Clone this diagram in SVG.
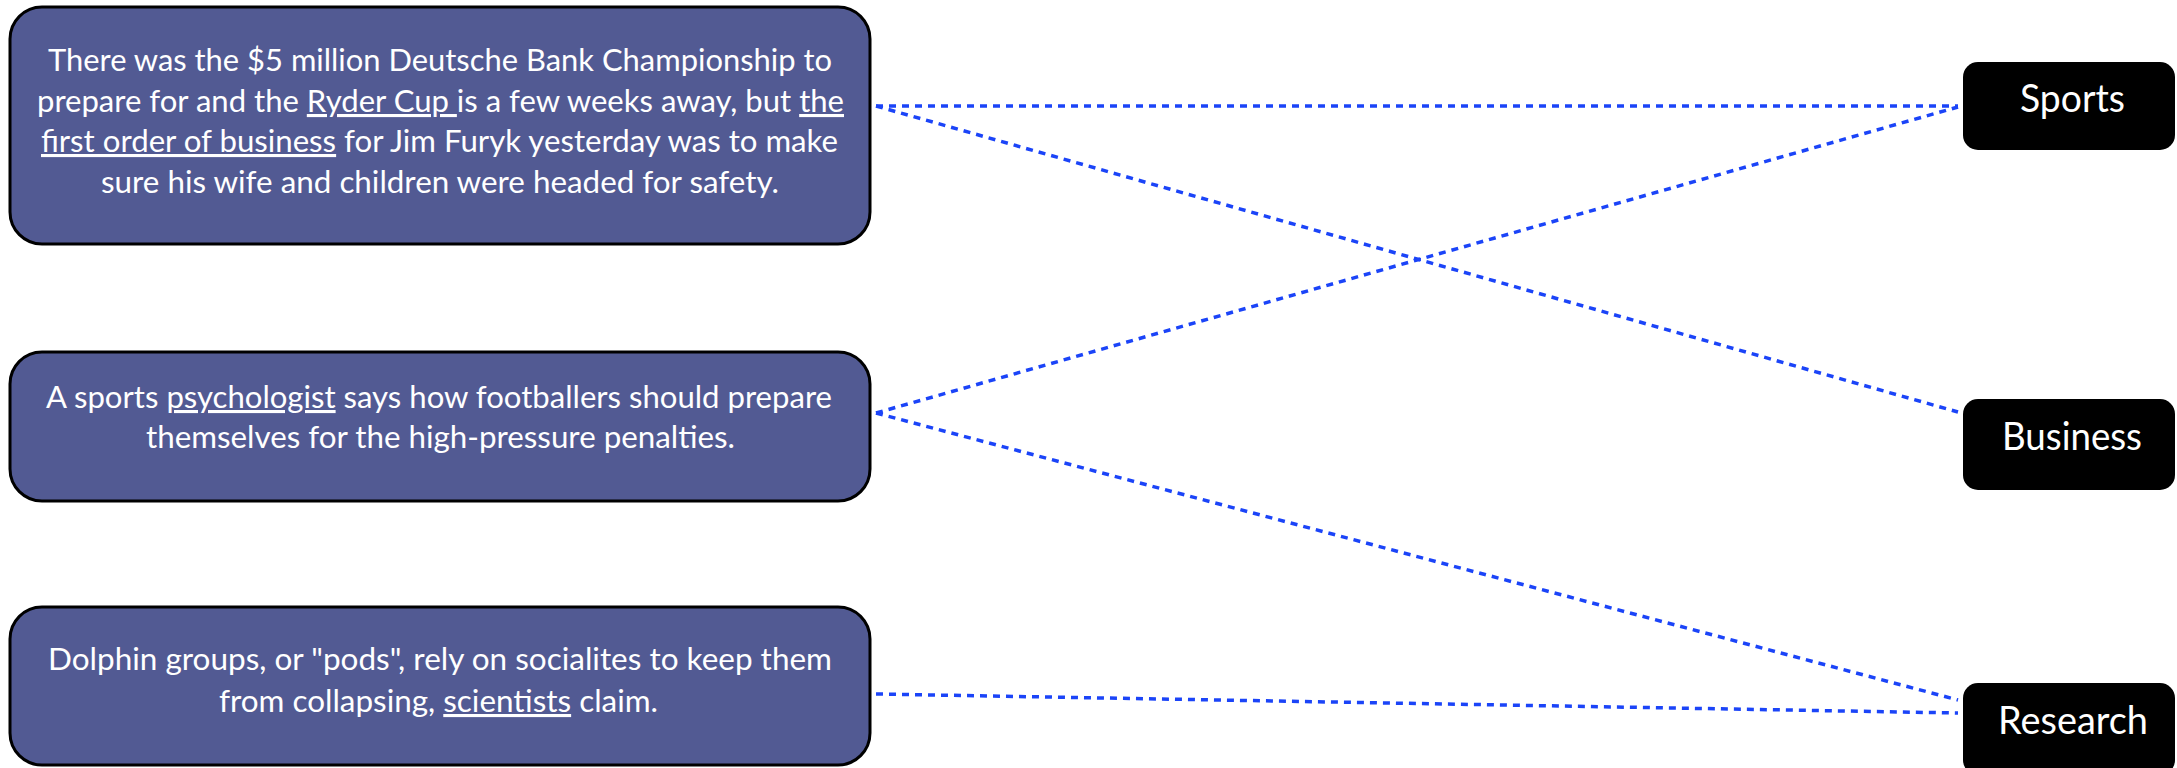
<svg xmlns="http://www.w3.org/2000/svg" width="2177" height="768" viewBox="0 0 2177 768">
  <style>
    .card { fill: #525a93; stroke: #000; stroke-width: 3; }
    .tag { fill: #000; }
    .body { font-family: Lato, "Liberation Sans", sans-serif; font-size: 31px; fill: #fff; }
    .label { font-family: Lato, "Liberation Sans", sans-serif; font-size: 38px; fill: #fff; }
    .u { text-decoration: underline; }
    .link { stroke: #1b44f8; stroke-width: 3.5; stroke-dasharray: 7 6; fill: none; }
  </style>
  <rect width="2177" height="768" fill="#fff"/>

  <!-- dotted connectors between headlines and topics -->
  <g id="connectors">
    <line class="link" x1="876" y1="106" x2="1958" y2="106"/>
    <line class="link" x1="876" y1="106" x2="1958" y2="412"/>
    <line class="link" x1="876" y1="413" x2="1958" y2="107"/>
    <line class="link" x1="876" y1="413" x2="1958" y2="700"/>
    <line class="link" x1="876" y1="694" x2="1958" y2="713"/>
  </g>

  <g id="headline-furyk">
    <rect class="card" x="10" y="7" width="860" height="237" rx="32"/>
    <text class="body" x="48" y="71" textLength="784" lengthAdjust="spacingAndGlyphs">There was the $5 million Deutsche Bank Championship to</text>
    <text class="body" x="37" y="112" textLength="807" lengthAdjust="spacingAndGlyphs">prepare for and the <tspan class="u">Ryder Cup </tspan>is a few weeks away, but <tspan class="u">the</tspan></text>
    <text class="body" x="41" y="152" textLength="797" lengthAdjust="spacingAndGlyphs"><tspan class="u">first order of business</tspan> for Jim Furyk yesterday was to make</text>
    <text class="body" x="101" y="193" textLength="678" lengthAdjust="spacingAndGlyphs">sure his wife and children were headed for safety.</text>
  </g>

  <g id="headline-psychologist">
    <rect class="card" x="10" y="352" width="860" height="149" rx="32"/>
    <text class="body" x="46" y="408" textLength="786" lengthAdjust="spacingAndGlyphs">A sports <tspan class="u">psychologist</tspan> says how footballers should prepare</text>
    <text class="body" x="146" y="448" textLength="589" lengthAdjust="spacingAndGlyphs">themselves for the high-pressure penalties.</text>
  </g>

  <g id="headline-dolphins">
    <rect class="card" x="10" y="607" width="860" height="158" rx="32"/>
    <text class="body" x="48" y="670" textLength="784" lengthAdjust="spacingAndGlyphs">Dolphin groups, or "pods", rely on socialites to keep them</text>
    <text class="body" x="219" y="712" textLength="439" lengthAdjust="spacingAndGlyphs">from collapsing, <tspan class="u">scientists</tspan> claim.</text>
  </g>

  <g id="topic-sports">
    <rect class="tag" x="1963" y="62" width="212" height="88" rx="15"/>
    <text class="label" x="2020" y="112" textLength="105" lengthAdjust="spacingAndGlyphs">Sports</text>
  </g>

  <g id="topic-business">
    <rect class="tag" x="1963" y="399" width="212" height="91" rx="15"/>
    <text class="label" x="2002" y="450" textLength="140" lengthAdjust="spacingAndGlyphs">Business</text>
  </g>

  <g id="topic-research">
    <rect class="tag" x="1963" y="683" width="212" height="92" rx="15"/>
    <text class="label" x="1998" y="734" textLength="150" lengthAdjust="spacingAndGlyphs">Research</text>
  </g>
</svg>
